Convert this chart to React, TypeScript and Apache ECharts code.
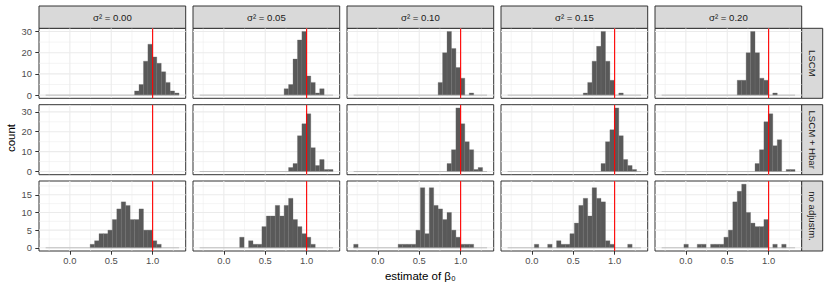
import React, { useEffect, useRef } from 'react';
import * as echarts from 'echarts';

// ---------- data ----------
const COLUMN_LABELS = ['σ² = 0.00', 'σ² = 0.05', 'σ² = 0.10', 'σ² = 0.15', 'σ² = 0.20'];
const ROW_LABELS = ['LSCM', 'LSCM + Hbar', 'no adjustm.'];
const X_TICKS = [0, 0.5, 1.0];
const X_MINOR = [-0.25, 0.25, 0.75, 1.25];
const Y_TICKS = [[0, 10, 20, 30], [0, 10, 20, 30], [0, 5, 10, 15]];
const Y_MINOR = [[5, 15, 25], [5, 15, 25], [2.5, 7.5, 12.5, 17.5]];
const TRUE_VALUE = 1.0;
const BIN_START = -0.292; // left edge of first histogram bin
const BIN_WIDTH = 0.0537; // 30 bins
const X_TITLE = 'estimate of β₀';
const Y_TITLE = 'count';

// counts per bin (30 bins), one array per σ² column
const LSCM_COUNTS = [
  [0,0,0,0,0,0,0,0,0,0,0,0,0,0,0,0,0,0,0,0,2,5,16,24,18,15,11,6,2,1],
  [0,0,0,0,0,0,0,0,0,0,0,0,0,0,0,0,0,0,0,3,5,17,26,30,9,6,1,3,0,0],
  [0,0,0,0,0,0,0,0,0,0,0,0,0,0,0,0,0,0,0,6,20,30,22,13,8,0,1,0,0,0],
  [0,0,0,0,0,0,0,0,0,0,0,0,0,0,0,0,0,1,6,16,23,30,16,7,0,1,0,0,0,0],
  [0,0,0,0,0,0,0,0,0,0,0,0,0,0,0,0,0,7,7,20,30,20,8,7,0,1,0,0,0,0],
];
const HBAR_COUNTS = [
  [],
  [0,0,0,0,0,0,0,0,0,0,0,0,0,0,0,0,0,0,0,0,2,4,18,24,29,12,3,6,1,1],
  [0,0,0,0,0,0,0,0,0,0,0,0,0,0,0,0,0,0,0,0,0,4,11,32,24,15,11,1,2,0],
  [0,0,0,0,0,0,0,0,0,0,0,0,0,0,0,0,0,0,0,0,0,4,15,21,32,18,6,3,1,0],
  [0,0,0,0,0,0,0,0,0,0,0,0,0,0,0,0,0,0,0,0,0,4,11,25,29,13,16,0,1,1],
];
const NOADJ_COUNTS = [
  [0,0,0,0,0,0,0,0,0,0,1,2,4,4,5,8,11,13,12,8,8,11,5,5,2,1,0,0,0,0],
  [0,0,0,0,0,0,0,0,0,3,0,2,1,1,6,9,9,12,9,12,14,8,6,4,3,1,0,0,0,0],
  [1,0,0,0,0,0,0,0,0,0,1,1,1,1,5,17,4,17,12,11,8,10,5,3,1,1,1,0,0,0],
  [0,0,0,0,0,0,1,0,0,1,0,2,1,1,4,7,12,14,9,17,14,13,2,1,0,0,0,1,0,0],
  [0,0,0,0,0,1,0,0,1,1,0,1,1,1,3,5,13,16,18,10,7,6,6,8,0,1,0,1,0,0],
];

// ---------- layout ----------
const FONT = '"Liberation Sans", Arial, Helvetica, sans-serif';
const PANEL_LEFT0 = 39;
const PANEL_STEP = 154;
const PANEL_W = 146.7;
const PANEL_H = 70;
const ROW_TOPS = [28.3, 104.7, 181];
const STRIP_TOP = 6;
const STRIP_H = 22.3;
const STRIP_R_W = 21;
const TICK_FONT = 9.4;
const STRIP_FONT = 9.6;
const TITLE_FONT = 11.5;

export default function App() {
  const ref = useRef<HTMLDivElement>(null);

  useEffect(() => {
    if (!ref.current) return;
    const chart = echarts.init(ref.current, null, { renderer: 'svg' });
    const rows = [LSCM_COUNTS, HBAR_COUNTS, NOADJ_COUNTS];
    const nBins = 30;
    const dataMin = BIN_START;
    const dataMax = BIN_START + nBins * BIN_WIDTH;
    const xPad = 0.05 * (dataMax - dataMin);
    const XMIN = dataMin - xPad;
    const XMAX = dataMax + xPad;

    const grids: any[] = [];
    const xAxes: any[] = [];
    const yAxes: any[] = [];
    const series: any[] = [];
    const graphics: any[] = [];

    rows.forEach((rowData, r) => {
      const rowMax = Math.max(...rowData.map((a) => (a.length ? Math.max(...a) : 0)));
      const YMIN = -0.05 * rowMax;
      const YMAX = 1.05 * rowMax;
      for (let c = 0; c < 5; c++) {
        const idx = r * 5 + c;
        const left = PANEL_LEFT0 + c * PANEL_STEP;
        grids.push({
          left,
          top: ROW_TOPS[r],
          width: PANEL_W,
          height: PANEL_H,
          show: true,
          borderColor: '#333333',
          borderWidth: 1,
          backgroundColor: 'transparent',
        });
        xAxes.push({
          type: 'value',
          gridIndex: idx,
          position: 'bottom',
          min: XMIN,
          max: XMAX,
          axisLine: { show: false, onZero: false },
          splitLine: { show: false },
          axisTick: {
            show: r === 2,
            customValues: X_TICKS,
            length: 3.7,
            lineStyle: { color: '#333333', width: 1 },
          },
          axisLabel: {
            show: r === 2,
            customValues: X_TICKS,
            formatter: (v: number) => v.toFixed(1),
            color: '#4D4D4D',
            fontSize: TICK_FONT,
            fontFamily: FONT,
            margin: 5,
          },
        });
        yAxes.push({
          type: 'value',
          gridIndex: idx,
          position: 'left',
          min: YMIN,
          max: YMAX,
          axisLine: { show: false, onZero: false },
          splitLine: { show: false },
          axisTick: {
            show: c === 0,
            customValues: Y_TICKS[r],
            length: 3.7,
            lineStyle: { color: '#333333', width: 1 },
          },
          axisLabel: {
            show: c === 0,
            customValues: Y_TICKS[r],
            formatter: (v: number) => String(v),
            color: '#4D4D4D',
            fontSize: TICK_FONT,
            fontFamily: FONT,
            margin: 7,
          },
        });

        // grid lines (major and minor), mapped through the panel's scales
        const yTicks = Y_TICKS[r];
        const yMinor = Y_MINOR[r];
        series.push({
          type: 'custom',
          xAxisIndex: idx,
          yAxisIndex: idx,
          z: 1,
          silent: true,
          clip: true,
          data: [[0, 0]],
          renderItem: (_p: any, api: any) => {
            const children: any[] = [];
            const vline = (v: number, w: number) => {
              const a = api.coord([v, YMIN]);
              const b = api.coord([v, YMAX]);
              children.push({
                type: 'line',
                shape: { x1: a[0], y1: a[1], x2: b[0], y2: b[1] },
                style: { stroke: '#EBEBEB', lineWidth: w },
              });
            };
            const hline = (v: number, w: number) => {
              const a = api.coord([XMIN, v]);
              const b = api.coord([XMAX, v]);
              children.push({
                type: 'line',
                shape: { x1: a[0], y1: a[1], x2: b[0], y2: b[1] },
                style: { stroke: '#EBEBEB', lineWidth: w },
              });
            };
            X_MINOR.forEach((v) => vline(v, 0.55));
            yMinor.forEach((v) => hline(v, 0.55));
            X_TICKS.forEach((v) => vline(v, 1.1));
            yTicks.forEach((v) => hline(v, 1.1));
            return { type: 'group', children };
          },
        });

        const counts = rowData[c];
        if (counts.length) {
          const bars: number[][] = [];
          counts.forEach((n, k) => {
            if (n > 0) bars.push([BIN_START + k * BIN_WIDTH, BIN_START + (k + 1) * BIN_WIDTH, n]);
          });
          series.push({
            type: 'custom',
            xAxisIndex: idx,
            yAxisIndex: idx,
            z: 2,
            silent: true,
            clip: true,
            encode: { x: [0, 1], y: 2 },
            data: bars,
            renderItem: (_p: any, api: any) => {
              const p0 = api.coord([api.value(0), api.value(2)]);
              const p1 = api.coord([api.value(1), 0]);
              return {
                type: 'rect',
                shape: { x: p0[0], y: p0[1], width: p1[0] - p0[0], height: p1[1] - p0[1] },
                style: { fill: '#595959', stroke: '#6b6b6b', lineWidth: 0.3 },
              };
            },
          });
          // zero-height bins show as a thin baseline across the binned range
          series.push({
            type: 'line',
            xAxisIndex: idx,
            yAxisIndex: idx,
            z: 3,
            silent: true,
            symbol: 'none',
            data: [[dataMin, 0], [dataMax, 0]],
            lineStyle: { color: '#A8A8A8', width: 0.7 },
          });
        }
        // reference line at the true value
        series.push({
          type: 'custom',
          xAxisIndex: idx,
          yAxisIndex: idx,
          z: 4,
          silent: true,
          clip: true,
          data: [[TRUE_VALUE]],
          renderItem: (_p: any, api: any) => {
            const v = api.value(0);
            const a = api.coord([v, YMIN]);
            const b = api.coord([v, YMAX]);
            return {
              type: 'line',
              shape: { x1: a[0], y1: a[1], x2: b[0], y2: b[1] },
              style: { stroke: '#FF0000', lineWidth: 1.1 },
            };
          },
        });
      }

      // right strip
      graphics.push({
        type: 'rect',
        shape: { x: PANEL_LEFT0 + 4 * PANEL_STEP + PANEL_W, y: ROW_TOPS[r], width: STRIP_R_W, height: PANEL_H },
        style: { fill: '#D9D9D9', stroke: '#333333', lineWidth: 1 },
      });
      graphics.push({
        type: 'text',
        x: PANEL_LEFT0 + 4 * PANEL_STEP + PANEL_W + STRIP_R_W / 2,
        y: ROW_TOPS[r] + PANEL_H / 2,
        rotation: -Math.PI / 2,
        style: {
          text: ROW_LABELS[r],
          fill: '#1A1A1A',
          font: `${STRIP_FONT}px ${FONT}`,
          align: 'center',
          verticalAlign: 'middle',
        },
      });
    });

    // top strips
    COLUMN_LABELS.forEach((lab, c) => {
      const left = PANEL_LEFT0 + c * PANEL_STEP;
      graphics.push({
        type: 'rect',
        shape: { x: left, y: STRIP_TOP, width: PANEL_W, height: STRIP_H },
        style: { fill: '#D9D9D9', stroke: '#333333', lineWidth: 1 },
      });
      graphics.push({
        type: 'text',
        x: left + PANEL_W / 2,
        y: STRIP_TOP + STRIP_H / 2 + 0.5,
        style: {
          text: lab,
          fill: '#1A1A1A',
          font: `${STRIP_FONT}px ${FONT}`,
          align: 'center',
          verticalAlign: 'middle',
        },
      });
    });

    // axis titles
    graphics.push({
      type: 'text',
      x: 11,
      y: 138,
      rotation: Math.PI / 2,
      style: {
        text: Y_TITLE,
        fill: '#000000',
        font: `${TITLE_FONT}px ${FONT}`,
        align: 'center',
        verticalAlign: 'middle',
      },
    });
    graphics.push({
      type: 'text',
      x: (PANEL_LEFT0 + PANEL_LEFT0 + 4 * PANEL_STEP + PANEL_W) / 2,
      y: 276,
      style: {
        text: X_TITLE,
        fill: '#000000',
        font: `${TITLE_FONT}px ${FONT}`,
        align: 'center',
        verticalAlign: 'middle',
      },
    });

    chart.setOption({
      animation: false,
      backgroundColor: '#ffffff',
      grid: grids,
      xAxis: xAxes,
      yAxis: yAxes,
      series,
      graphic: { elements: graphics },
    });

    return () => chart.dispose();
  }, []);

  return (
    <div
      ref={ref}
      style={{ position: 'fixed', left: 0, top: 0, width: 830, height: 291, background: '#fff' }}
    />
  );
}
